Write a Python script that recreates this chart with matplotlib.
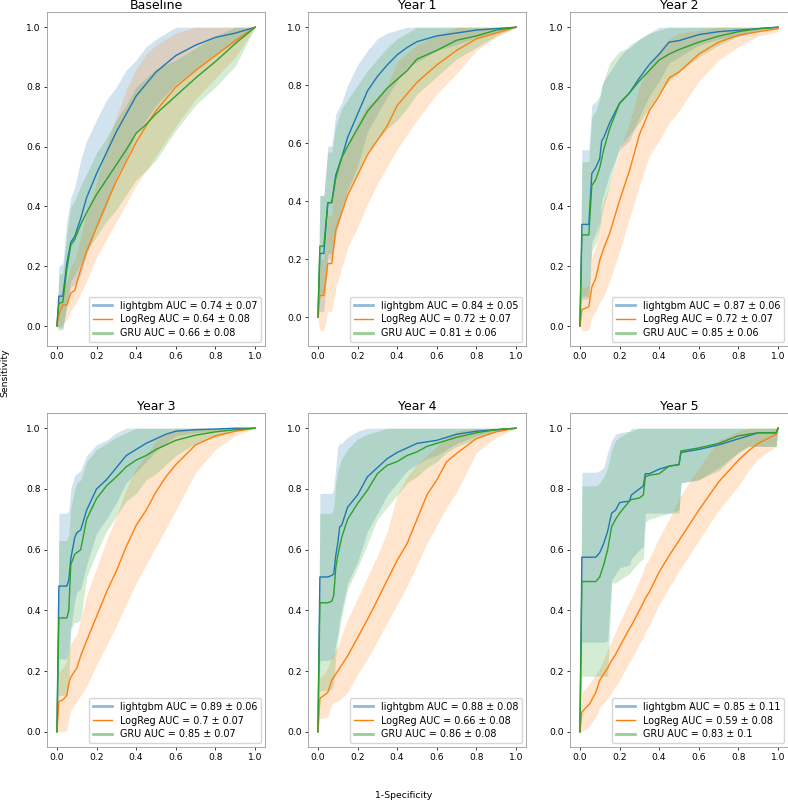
import matplotlib
matplotlib.use("Agg")
import matplotlib.pyplot as plt
from matplotlib.lines import Line2D

titles = ["Baseline", "Year 1", "Year 2", "Year 3", "Year 4", "Year 5"]
models = ["lightgbm", "LogReg", "GRU"]
colors = ["#1f77b4", "#ff7f0e", "#2ca02c"]

auc_labels = [
    ["0.74 ± 0.07", "0.64 ± 0.08", "0.66 ± 0.08"],
    ["0.84 ± 0.05", "0.72 ± 0.07", "0.81 ± 0.06"],
    ["0.87 ± 0.06", "0.72 ± 0.07", "0.85 ± 0.06"],
    ["0.89 ± 0.06", "0.7 ± 0.07", "0.85 ± 0.07"],
    ["0.88 ± 0.08", "0.66 ± 0.08", "0.86 ± 0.08"],
    ["0.85 ± 0.11", "0.59 ± 0.08", "0.83 ± 0.1"],
]

# ---------------- Baseline ----------------
fpr_base = [0, .01, .03, .05, .07, .09, .12, .15, .2, .25, .3, .35, .4, .45, .5, .6, .7, .8, .9, 1]
base_lgb = [0, .10, .10, .21, .28, .30, .36, .43, .51, .58, .65, .71, .77, .81, .85, .905, .94, .966, .98, 1]
base_lgb_lo = [0, .00, -.01, .07, .13, .14, .17, .24, .33, .40, .50, .56, .65, .69, .74, .81, .86, .91, .95, 1]
base_lgb_hi = [0, .20, .21, .35, .43, .465, .555, .62, .69, .756, .80, .857, .89, .935, .96, 1, 1, 1, 1, 1]
base_lr = [0, .04, .07, .07, .11, .12, .19, .25, .33, .41, .485, .55, .615, .67, .72, .80, .855, .905, .955, 1]
base_lr_lo = [0, -.01, .01, .02, .05, .07, .11, .15, .23, .29, .35, .41, .47, .52, .57, .67, .76, .83, .90, 1]
base_lr_hi = [0, .09, .13, .15, .20, .22, .30, .38, .48, .60, .70, .79, .86, .91, .94, .98, 1, 1, 1, 1]
base_gru = [0, .075, .08, .19, .27, .29, .34, .38, .44, .49, .54, .59, .645, .675, .71, .77, .83, .885, .945, 1]
base_gru_lo = [0, -.016, -.01, .07, .15, .17, .21, .25, .30, .35, .39, .44, .49, .52, .555, .655, .74, .80, .87, 1]
base_gru_hi = [0, .17, .18, .31, .40, .42, .47, .51, .58, .63, .69, .74, .80, .83, .86, .89, .93, .97, 1, 1]

# ---------------- Year 1 ----------------
fpr_y1 = [0, .01, .03, .05, .07, .09, .12, .15, .2, .25, .3, .35, .4, .45, .5, .6, .7, .8, .9, 1]
y1_lgb = [0, .22, .22, .395, .395, .49, .55, .62, .70, .78, .83, .87, .905, .93, .95, .97, .98, .99, .995, 1]
y1_lgb_lo = [0, .02, .02, .20, .20, .28, .36, .44, .52, .64, .70, .76, .815, .86, .88, .92, .94, .965, .98, 1]
y1_lgb_hi = [0, .42, .42, .59, .59, .70, .74, .80, .87, .92, .96, .98, .99, 1, 1, 1, 1, 1, 1, 1]
y1_lr = [0, .075, .075, .185, .185, .30, .36, .42, .49, .56, .61, .66, .73, .77, .81, .87, .92, .96, .98, 1]
y1_lr_lo = [0, -.047, -.045, .02, .02, .10, .17, .24, .31, .39, .46, .52, .58, .63, .68, .77, .84, .92, .965, 1]
y1_lr_hi = [0, .20, .20, .35, .35, .50, .55, .60, .67, .73, .76, .80, .88, .91, .94, .97, 1, 1, 1, 1]
y1_gru = [0, .245, .245, .395, .395, .48, .55, .59, .65, .71, .75, .79, .82, .85, .89, .92, .955, .97, .99, 1]
y1_gru_lo = [0, .08, .08, .22, .22, .30, .38, .43, .50, .57, .61, .65, .68, .72, .77, .83, .89, .93, .97, 1]
y1_gru_hi = [0, .42, .42, .57, .57, .66, .72, .75, .80, .85, .89, .93, .96, .98, 1, 1, 1, 1, 1, 1]

# ---------------- Year 2 ----------------
fpr_y2 = [0, .01, .03, .045, .06, .08, .1, .11, .12, .15, .2, .25, .3, .35, .4, .45, .5, .6, .7, .8, .9, 1]
y2_lgb = [0, .34, .34, .34, .51, .53, .56, .62, .63, .68, .745, .78, .83, .875, .91, .95, .955, .975, .985, .99, .995, 1]
y2_lgb_lo = [0, .09, .09, .09, .28, .31, .35, .42, .44, .51, .59, .62, .70, .77, .82, .88, .90, .94, .96, .97, .99, 1]
y2_lgb_hi = [0, .59, .59, .59, .74, .75, .77, .80, .82, .85, .90, .94, .96, .98, 1, 1, 1, 1, 1, 1, 1, 1]
y2_lr = [0, .055, .06, .065, .13, .16, .22, .24, .26, .31, .42, .52, .64, .72, .77, .83, .85, .91, .95, .973, .985, .995]
y2_lr_lo = [0, -.016, -.015, -.01, .03, .05, .08, .09, .10, .15, .25, .36, .47, .57, .62, .68, .72, .82, .89, .935, .97, .985]
y2_lr_hi = [0, .13, .13, .14, .23, .27, .36, .39, .42, .47, .59, .68, .80, .87, .92, .96, .98, .99, 1, 1, 1, 1]
y2_gru = [0, .305, .305, .305, .47, .49, .53, .56, .59, .66, .745, .78, .82, .855, .89, .91, .925, .95, .97, .985, .995, 1]
y2_gru_lo = [0, .10, .10, .10, .25, .28, .33, .37, .40, .47, .60, .64, .68, .73, .78, .82, .85, .90, .94, .97, .99, 1]
y2_gru_hi = [0, .55, .55, .55, .70, .72, .76, .80, .82, .88, .92, .93, .96, .98, .99, 1, 1, 1, 1, 1, 1, 1]

# ---------------- Year 3 ----------------
fpr_y3 = [0, .01, .03, .05, .06, .07, .09, .1, .12, .15, .2, .25, .3, .35, .4, .45, .5, .55, .6, .7, .8, .9, 1]
y3_lgb = [0, .48, .48, .48, .50, .57, .64, .655, .665, .73, .80, .83, .87, .91, .93, .95, .965, .98, .99, .995, .997, 1, 1]
y3_lgb_lo = [0, .24, .24, .24, .27, .34, .43, .46, .47, .55, .655, .70, .755, .82, .855, .89, .925, .95, .975, .985, .99, .998, 1]
y3_lgb_hi = [0, .72, .72, .72, .73, .80, .845, .85, .86, .91, .945, .96, .985, 1, 1, 1, 1, 1, 1, 1, 1, 1, 1]
y3_lr = [0, .10, .105, .12, .16, .18, .20, .21, .25, .30, .38, .46, .53, .61, .68, .73, .79, .84, .88, .945, .975, .99, 1]
y3_lr_lo = [0, .0, .0, .005, .04, .07, .09, .10, .12, .15, .22, .285, .35, .42, .49, .55, .61, .67, .73, .855, .93, .975, 1]
y3_lr_hi = [0, .20, .21, .235, .27, .29, .31, .32, .37, .45, .54, .63, .71, .80, .87, .91, .96, .98, 1, 1, 1, 1, 1]
y3_gru = [0, .375, .375, .375, .40, .55, .585, .59, .60, .70, .768, .81, .84, .873, .895, .91, .93, .945, .96, .977, .988, .995, 1]
y3_gru_lo = [0, .12, .12, .12, .15, .34, .36, .36, .37, .51, .59, .66, .71, .76, .785, .83, .85, .88, .91, .95, .97, .99, 1]
y3_gru_hi = [0, .63, .63, .63, .65, .74, .80, .82, .83, .89, .93, .95, .97, .985, 1, 1, 1, 1, 1, 1, 1, 1, 1]

# ---------------- Year 4 ----------------
fpr_y4 = [0, .01, .03, .05, .07, .08, .09, .1, .11, .12, .15, .2, .25, .3, .35, .4, .45, .5, .55, .6, .65, .7, .8, .9, 1]
y4_lgb = [0, .51, .51, .51, .515, .52, .58, .62, .675, .68, .74, .78, .84, .87, .90, .92, .935, .95, .955, .96, .97, .98, .99, .995, 1]
y4_lgb_lo = [0, .235, .235, .235, .24, .25, .29, .32, .37, .40, .49, .56, .66, .72, .78, .82, .86, .88, .90, .91, .93, .95, .975, .99, 1]
y4_lgb_hi = [0, .785, .785, .785, .785, .80, .87, .94, .95, .95, .97, .99, 1, 1, 1, 1, 1, 1, 1, 1, 1, 1, 1, 1, 1]
y4_lr = [0, .11, .12, .13, .17, .18, .19, .20, .21, .22, .25, .31, .37, .434, .50, .565, .62, .70, .78, .83, .89, .917, .966, .988, 1]
y4_lr_lo = [0, .044, .045, .05, .09, .095, .10, .10, .105, .11, .13, .19, .24, .30, .36, .42, .48, .55, .62, .68, .74, .79, .92, .97, 1]
y4_lr_hi = [0, .18, .19, .21, .25, .26, .27, .28, .30, .32, .37, .44, .51, .58, .66, .78, .84, .88, .91, .94, .97, .99, 1, 1, 1]
y4_gru = [0, .425, .425, .425, .43, .45, .54, .58, .61, .64, .70, .752, .796, .85, .878, .89, .91, .922, .94, .95, .96, .97, .985, .995, 1]
y4_gru_lo = [0, .135, .135, .135, .14, .16, .25, .30, .34, .38, .47, .54, .62, .70, .74, .78, .82, .84, .87, .89, .92, .94, .965, .99, 1]
y4_gru_hi = [0, .72, .72, .72, .72, .74, .82, .86, .88, .90, .93, .965, .98, .99, 1, 1, 1, 1, 1, 1, 1, 1, 1, 1, 1]

# ---------------- Year 5 ----------------
fpr_y5 = [0, .01, .05, .08, .1, .12, .14, .16, .18, .2, .25, .26, .3, .32, .33, .35, .4, .45, .5, .51, .6, .7, .8, .85, .9, .99, 1]
y5_lgb = [0, .575, .575, .575, .59, .62, .66, .72, .73, .755, .76, .78, .80, .81, .85, .85, .865, .875, .88, .92, .93, .945, .965, .975, .985, .985, 1]
y5_lgb_lo = [0, .295, .295, .295, .295, .295, .30, .50, .52, .54, .55, .57, .60, .61, .72, .72, .72, .72, .73, .82, .83, .87, .92, .94, .94, .94, 1]
y5_lgb_hi = [0, .855, .855, .855, .86, .87, .92, .96, .98, .985, .99, 1, 1, 1, 1, 1, 1, 1, 1, 1, 1, 1, 1, 1, 1, 1, 1]
y5_lr = [0, .065, .093, .13, .17, .19, .21, .235, .255, .28, .34, .35, .40, .425, .44, .46, .527, .58, .63, .64, .73, .823, .895, .925, .95, .98, 1]
y5_lr_lo = [0, .0, .02, .05, .08, .095, .11, .13, .15, .17, .23, .24, .29, .31, .33, .35, .42, .475, .53, .54, .63, .73, .81, .86, .90, .94, 1]
y5_lr_hi = [0, .13, .16, .19, .21, .24, .27, .30, .33, .36, .43, .44, .50, .53, .55, .57, .64, .70, .77, .78, .87, .96, .99, 1, 1, 1, 1]
y5_gru = [0, .495, .495, .495, .51, .55, .60, .675, .70, .72, .76, .765, .77, .78, .84, .845, .85, .875, .88, .925, .935, .95, .975, .98, .985, .985, 1]
y5_gru_lo = [0, .183, .183, .183, .183, .183, .183, .49, .49, .50, .52, .53, .56, .57, .69, .70, .71, .72, .72, .82, .83, .86, .92, .94, .94, .94, 1]
y5_gru_hi = [0, .81, .81, .81, .82, .84, .87, .93, .96, .97, .99, .99, 1, 1, 1, 1, 1, 1, 1, 1, 1, 1, 1, 1, 1, 1, 1]

panels = [
    (fpr_base, [(base_lgb, base_lgb_lo, base_lgb_hi), (base_lr, base_lr_lo, base_lr_hi), (base_gru, base_gru_lo, base_gru_hi)]),
    (fpr_y1, [(y1_lgb, y1_lgb_lo, y1_lgb_hi), (y1_lr, y1_lr_lo, y1_lr_hi), (y1_gru, y1_gru_lo, y1_gru_hi)]),
    (fpr_y2, [(y2_lgb, y2_lgb_lo, y2_lgb_hi), (y2_lr, y2_lr_lo, y2_lr_hi), (y2_gru, y2_gru_lo, y2_gru_hi)]),
    (fpr_y3, [(y3_lgb, y3_lgb_lo, y3_lgb_hi), (y3_lr, y3_lr_lo, y3_lr_hi), (y3_gru, y3_gru_lo, y3_gru_hi)]),
    (fpr_y4, [(y4_lgb, y4_lgb_lo, y4_lgb_hi), (y4_lr, y4_lr_lo, y4_lr_hi), (y4_gru, y4_gru_lo, y4_gru_hi)]),
    (fpr_y5, [(y5_lgb, y5_lgb_lo, y5_lgb_hi), (y5_lr, y5_lr_lo, y5_lr_hi), (y5_gru, y5_gru_lo, y5_gru_hi)]),
]

W, H = 788, 801
fig = plt.figure(figsize=(W / 100, H / 100), dpi=100)

col_left = [47, 308, 570]
row_top = [12, 413]
ax_w, ax_h = 218, 334

for i, (fpr, series) in enumerate(panels):
    r, c = divmod(i, 3)
    ax = fig.add_axes([col_left[c] / W, 1 - (row_top[r] + ax_h) / H, ax_w / W, ax_h / H])
    for (tpr, lo, hi), col in zip(series, colors):
        ax.fill_between(fpr, lo, hi, color=col, alpha=0.2, linewidth=0)
        ax.plot(fpr, tpr, color=col, lw=1.0)
    ax.set_title(titles[i], fontsize=9.0, pad=1.6)
    ax.tick_params(labelsize=6.6, length=2.4, width=0.55, pad=2)
    for sp in ax.spines.values():
        sp.set_linewidth(0.6)
        sp.set_color("#999999")
    ax.set_xticks([0, 0.2, 0.4, 0.6, 0.8, 1.0])
    ax.set_yticks([0, 0.2, 0.4, 0.6, 0.8, 1.0])
    handles = [
        Line2D([], [], color=colors[0], lw=2.0, alpha=0.5),
        Line2D([], [], color=colors[1], lw=1.0),
        Line2D([], [], color=colors[2], lw=2.0, alpha=0.5),
    ]
    labels = [f"{m} AUC = {a}" for m, a in zip(models, auc_labels[i])]
    ax.legend(handles, labels, loc="lower right", fontsize=6.9, borderaxespad=0.4,
              handlelength=2.0, labelspacing=0.4)

fig.text(5 / W, 1 - 373 / H, "Sensitivity", rotation=90, ha="center", va="center", fontsize=6.7)
fig.text(404 / W, 1 - 795 / H, "1-Specificity", ha="center", va="center", fontsize=6.7)

fig.savefig("out.png", dpi=100)
